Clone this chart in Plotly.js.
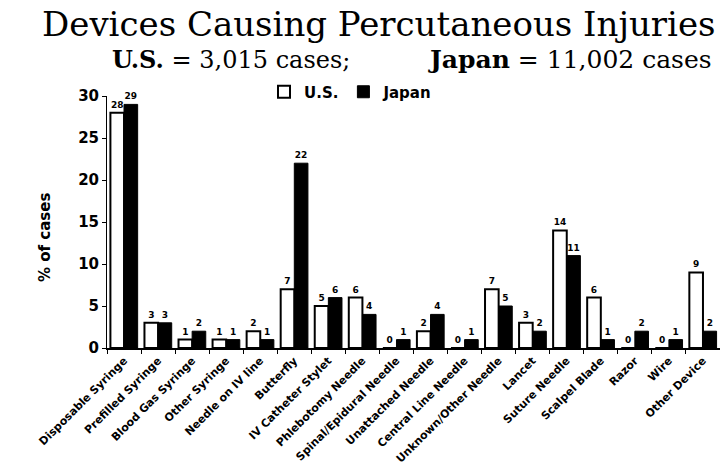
<!DOCTYPE html>
<html>
<head>
<meta charset="utf-8">
<script src="https://cdn.plot.ly/plotly-3.0.1.min.js"></script>
<style>html,body{margin:0;padding:0;background:#fff;}#chart{width:720px;height:473px;}</style>
</head>
<body>
<div id="chart"></div>
<script>
const categories = ["Disposable Syringe", "Prefilled Syringe", "Blood Gas Syringe", "Other Syringe", "Needle on IV line", "Butterfly", "IV Catheter Stylet", "Phlebotomy Needle", "Spinal/Epidural Needle", "Unattached Needle", "Central Line Needle", "Unknown/Other Needle", "Lancet", "Suture Needle", "Scalpel Blade", "Razor", "Wire", "Other Device"];
const usValues = [28, 3, 1, 1, 2, 7, 5, 6, 0, 2, 0, 7, 3, 14, 6, 0, 0, 9];
const japanValues = [29, 3, 2, 1, 1, 22, 6, 4, 1, 4, 1, 5, 2, 11, 1, 2, 1, 2];
const yTicks = [0, 5, 10, 15, 20, 25, 30];

const sans = "DejaVu Sans, Verdana, sans-serif";
const labelFont = {family: sans, size: 9, color: "#000", weight: "bold"};

const traces = [
  {type: "bar", name: "U.S.", x: categories, y: usValues,
   marker: {color: "#fff", line: {color: "#000", width: 2}},
   text: usValues.map(String), textposition: "outside", cliponaxis: false,
   textfont: labelFont, hoverinfo: "none"},
  {type: "bar", name: "Japan", x: categories, y: japanValues,
   marker: {color: "#000", line: {color: "#000", width: 1}},
   text: japanValues.map(String), textposition: "outside", cliponaxis: false,
   textfont: labelFont, hoverinfo: "none"}
];

const L = 107, T = 96, B = 125, W = 720, H = 473;
const pw = W - L, ph = H - T - B;
function px(x) { return (x - L) / pw; }
function py(y) { return (H - B - y) / ph; }

const layout = {
  width: W, height: H,
  margin: {l: L, r: 0, t: T, b: B},
  paper_bgcolor: "#fff", plot_bgcolor: "#fff",
  barmode: "group", bargap: 0.2, bargroupgap: 0,
  showlegend: true,
  legend: {orientation: "h", x: px(264), xanchor: "left", y: py(92), yanchor: "middle",
    font: {family: sans, size: 15, color: "#000", weight: "bold"},
    itemwidth: 30, tracegroupgap: 0, bgcolor: "rgba(0,0,0,0)"},
  xaxis: {
    type: "category", range: [-0.5, 17.5],
    showline: true, linecolor: "#000", linewidth: 2,
    ticks: "outside", tickson: "boundaries", ticklen: 4, tickcolor: "#000", tickwidth: 1,
    tickangle: -45, showgrid: false, zeroline: false,
    tickfont: {family: sans, size: 11, color: "#000", weight: "bold"}
  },
  yaxis: {
    range: [0, 30], tickvals: yTicks, ticktext: yTicks.map(String),
    showline: true, linecolor: "#000", linewidth: 1,
    ticks: "outside", ticklen: 4, tickcolor: "#000",
    showgrid: false, zeroline: false,
    tickfont: {family: sans, size: 15, color: "#000", weight: "bold"}
  },
  annotations: [
    {text: "Devices Causing Percutaneous Injuries", xref: "paper", yref: "paper",
     x: px(718), y: py(2), xanchor: "right", yanchor: "top", showarrow: false,
     font: {family: "DejaVu Serif, serif", size: 34, color: "#000"}},
    {text: "<b>U.S.</b> = 3,015 cases;", xref: "paper", yref: "paper",
     x: px(110), y: py(59), xanchor: "left", yanchor: "middle", showarrow: false,
     font: {family: "DejaVu Serif, serif", size: 24, color: "#000"}},
    {text: "<b>Japan</b> = 11,002 cases", xref: "paper", yref: "paper",
     x: px(714), y: py(59), xanchor: "right", yanchor: "middle", showarrow: false,
     font: {family: "DejaVu Serif, serif", size: 25, color: "#000"}},
    {text: "% of cases", xref: "paper", yref: "paper", textangle: -90,
     x: px(45), y: py(238), xanchor: "center", yanchor: "middle", showarrow: false,
     font: {family: sans, size: 15, color: "#000", weight: "bold"}}
  ]
};

Plotly.newPlot("chart", traces, layout, {displayModeBar: false, staticPlot: true});
</script>
</body>
</html>
